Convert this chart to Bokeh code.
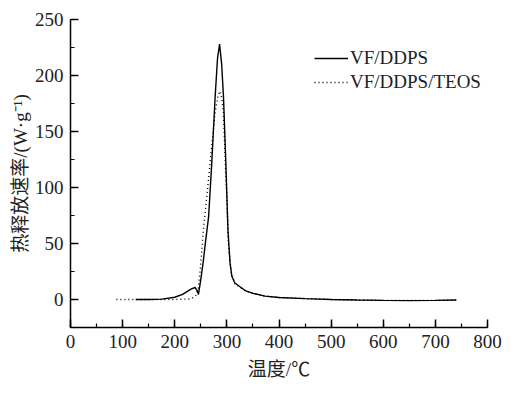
from bokeh.plotting import figure
from bokeh.models import Range1d, SingleIntervalTicker, Legend, LegendItem
from bokeh.embed import file_html
from bokeh.resources import INLINE

# VF/DDPS (solid)
temp_a = [125, 150, 175, 200, 215, 225, 232, 239, 243, 245.5, 250, 255, 258, 265, 271,
          277.5, 282, 286, 290, 293.5, 298, 302, 306, 309.5, 315, 322, 335, 350, 373,
          400, 450, 500, 550, 600, 650, 700, 740]
hrr_a = [0, 0, 0.3, 2, 4.5, 7.5, 9.5, 10.7, 8, 4.5, 18, 35, 47.6, 74, 122,
         181, 215, 228, 210, 181, 122, 62.5, 33, 20.8, 15, 12.5, 8, 5.5, 3,
         1.8, 0.8, 0, -0.5, -0.8, -1, -0.8, -0.5]

# VF/DDPS/TEOS (dotted)
temp_b = [88, 120, 160, 200, 230, 240, 245, 249, 255, 261.5, 271, 277.5, 283, 287, 290,
          293.5, 297, 300, 303, 308, 316, 322, 335, 350, 373, 400, 450, 500, 600, 700, 740]
hrr_b = [0, 0, 0, 0, 0.5, 3, 10, 27, 62.5, 92, 137, 167, 182, 186, 180,
         167, 122, 92, 50, 25, 13.4, 12, 8, 5.5, 3, 1.8, 0.8, 0, -0.8, -0.8, -0.5]

series_names = ["VF/DDPS", "VF/DDPS/TEOS"]
x_label = "温度/℃"
y_label = "热释放速率/(W·g⁻¹)"

p = figure(width=503, height=384, output_backend="svg", toolbar_location=None,
           x_range=Range1d(0, 800), y_range=Range1d(-25, 250),
           min_border_left=70, min_border_right=16, min_border_top=19, min_border_bottom=57)
p.outline_line_color = None
p.grid.visible = False
p.background_fill_color = "white"

r1 = p.line(temp_a, hrr_a, line_color="black", line_width=1.4)
r2 = p.line(temp_b, hrr_b, line_color="black", line_width=1.4, line_dash="1 3")

p.xaxis.ticker = SingleIntervalTicker(interval=100, num_minor_ticks=2)
p.yaxis.ticker = SingleIntervalTicker(interval=50, num_minor_ticks=2)

font = "'Liberation Serif', 'Noto Sans CJK SC'"
for ax in (p.xaxis[0], p.yaxis[0]):
    ax.axis_line_width = 1.5
    ax.axis_line_color = "black"
    ax.major_tick_in = 8
    ax.major_tick_out = 0
    ax.minor_tick_in = 4
    ax.minor_tick_out = 0
    ax.major_tick_line_width = 1.5
    ax.minor_tick_line_width = 1.2
    ax.major_tick_line_color = "black"
    ax.minor_tick_line_color = "black"
    ax.major_label_text_font = font
    ax.major_label_text_font_size = "19px"
    ax.major_label_text_color = "#222222"
    ax.axis_label_text_font = font
    ax.axis_label_text_font_size = "19px"
    ax.axis_label_text_font_style = "normal"
    ax.axis_label_text_color = "#222222"

p.xaxis.axis_label = x_label
p.yaxis.axis_label = y_label
p.xaxis.major_label_standoff = 7
p.yaxis.major_label_standoff = 7
p.xaxis.axis_label_standoff = 8
p.yaxis.axis_label_standoff = 1

legend = Legend(items=[LegendItem(label=series_names[0], renderers=[r1]),
                       LegendItem(label=series_names[1], renderers=[r2])],
                location=(244, 233), padding=0, margin=0, spacing=0,
                glyph_width=34, glyph_height=24, label_height=24, label_standoff=2,
                label_text_font="Liberation Serif", label_text_font_size="19px",
                label_text_color="#222222",
                background_fill_alpha=0, border_line_alpha=0)
p.add_layout(legend, "center")

open("out.html", "w").write(file_html(p, INLINE))
